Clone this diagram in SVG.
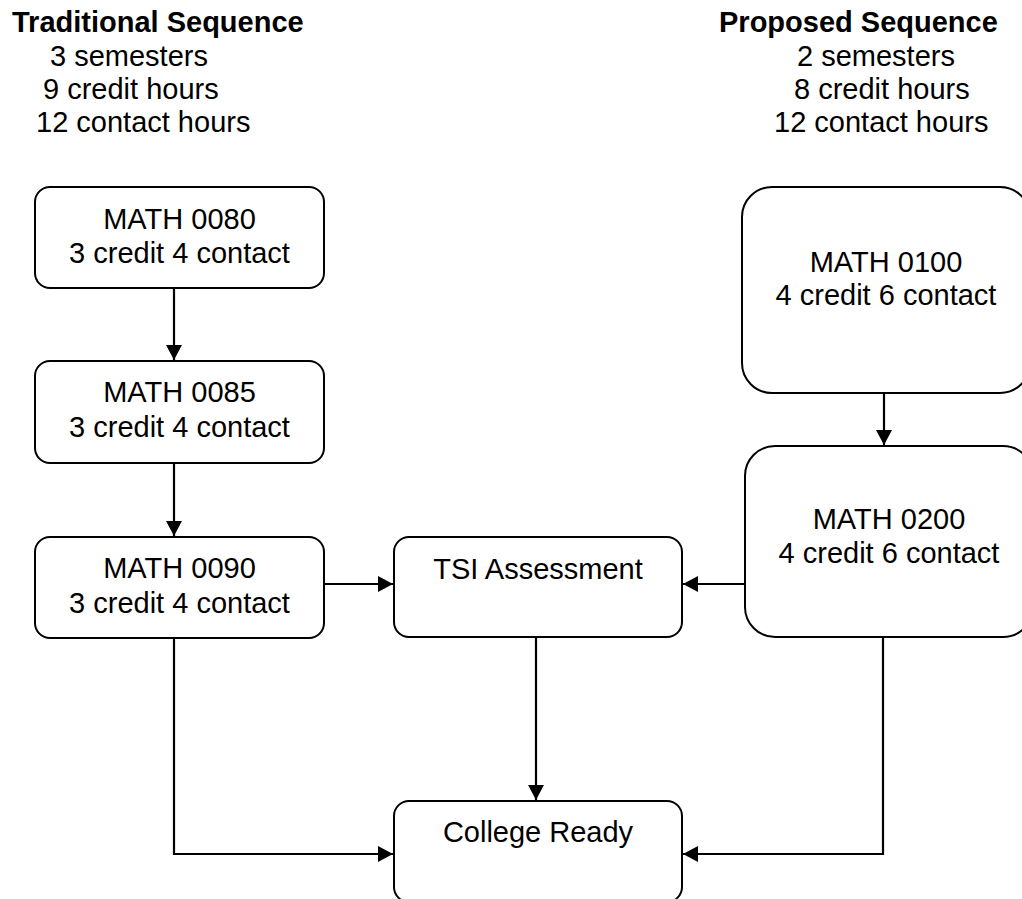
<svg xmlns="http://www.w3.org/2000/svg" width="1022" height="899" viewBox="0 0 1022 899">
<style>
text{font-family:"Liberation Sans",Arial,sans-serif;font-size:29px;fill:#000}
.h{font-weight:bold}
.c{text-anchor:middle}
.box{fill:#fff;stroke:#000;stroke-width:2}
.con{fill:none;stroke:#000;stroke-width:2.2}
</style>
<defs>
<marker id="arr" markerUnits="userSpaceOnUse" markerWidth="16" markerHeight="16" refX="15" refY="8" orient="auto">
<path d="M0,0 L15,8 L0,16 Z" fill="#000"/>
</marker>
</defs>
<g id="header-left">
<text class="h" x="12" y="32">Traditional Sequence</text>
<text x="50" y="66">3 semesters</text>
<text x="43" y="99">9 credit hours</text>
<text x="36" y="132">12 contact hours</text>
</g>
<g id="header-right">
<text class="h" x="719" y="32">Proposed Sequence</text>
<text x="797" y="66">2 semesters</text>
<text x="794" y="99">8 credit hours</text>
<text x="774" y="132">12 contact hours</text>
</g>
<g id="connectors">
<path class="con" d="M174,288 V360" marker-end="url(#arr)"/>
<path class="con" d="M174,463 V536" marker-end="url(#arr)"/>
<path class="con" d="M325,584 H393" marker-end="url(#arr)"/>
<path class="con" d="M745,584 H683" marker-end="url(#arr)"/>
<path class="con" d="M884,393 V445" marker-end="url(#arr)"/>
<path class="con" d="M536,637 V800" marker-end="url(#arr)"/>
<path class="con" d="M174,638 V854 H393" marker-end="url(#arr)"/>
<path class="con" d="M883,637 V854 H683" marker-end="url(#arr)"/>
</g>
<g id="math0080">
<rect class="box" x="35" y="187" width="289" height="101" rx="15"/>
<text class="c" x="179.5" y="229">MATH 0080</text>
<text class="c" x="179.5" y="263">3 credit 4 contact</text>
</g>
<g id="math0085">
<rect class="box" x="35" y="361" width="289" height="102" rx="15"/>
<text class="c" x="179.5" y="402">MATH 0085</text>
<text class="c" x="179.5" y="437">3 credit 4 contact</text>
</g>
<g id="math0090">
<rect class="box" x="35" y="537" width="289" height="101" rx="15"/>
<text class="c" x="179.5" y="578">MATH 0090</text>
<text class="c" x="179.5" y="613">3 credit 4 contact</text>
</g>
<g id="tsi">
<rect class="box" x="394" y="537" width="288" height="100" rx="15"/>
<text class="c" x="538" y="579">TSI Assessment</text>
</g>
<g id="math0100">
<rect class="box" x="742" y="187" width="288" height="206" rx="30"/>
<text class="c" x="886" y="272">MATH 0100</text>
<text class="c" x="886" y="305">4 credit 6 contact</text>
</g>
<g id="math0200">
<rect class="box" x="745" y="446" width="288" height="191" rx="30"/>
<text class="c" x="889" y="529">MATH 0200</text>
<text class="c" x="889" y="563">4 credit 6 contact</text>
</g>
<g id="college">
<rect class="box" x="394" y="801" width="288" height="101" rx="15"/>
<text class="c" x="538" y="842">College Ready</text>
</g>
</svg>
